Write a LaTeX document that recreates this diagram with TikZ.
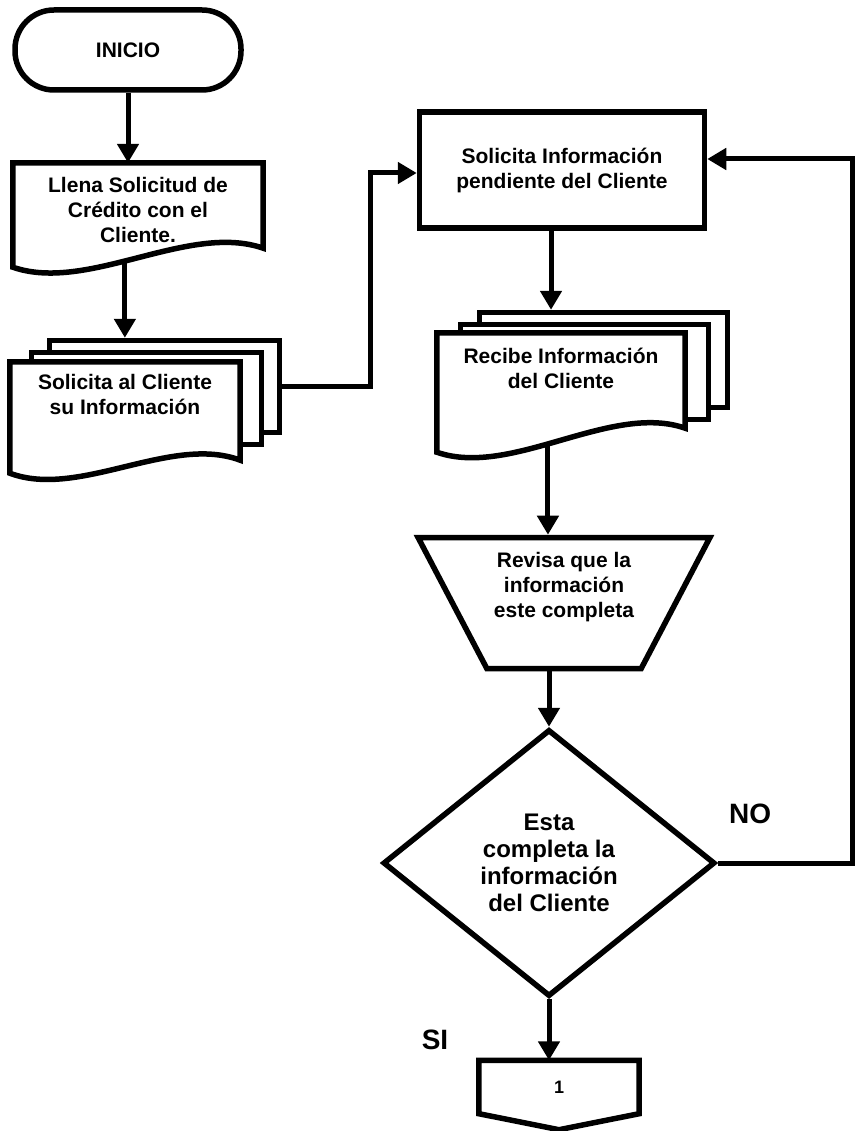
\documentclass[tikz,border=0pt]{standalone}
\usepackage{fontspec}
\setmainfont{Liberation Sans}
\usetikzlibrary{arrows.meta,positioning,calc,backgrounds,shapes.geometric}

% document symbol: wavy lower edge hanging below the text node
\newcommand{\docshape}[3]{%
  \draw[thickline, fill=white] (#1.north west) -- (#1.north east)
    -- ($(#1.south east)+(0,#2)$)
    .. controls ($(#1.south east)!0.3!(#1.south west)+(0,#2-26)$)
    and ($(#1.south east)!0.7!(#1.south west)+(0,#3+26)$)
    .. ($(#1.south west)+(0,#3)$) coordinate[pos=0.55] (#1-out)
    -- cycle;}

\begin{document}
\begin{tikzpicture}[x=1pt, y=-1pt,
    thickline/.style={draw=black, line width=5.5pt},
    txt/.style={align=center, font=\bfseries\fontsize{21}{25}\selectfont},
    box/.style={txt, thickline, minimum width=285pt, minimum height=116pt},
    doc/.style={txt, inner sep=0pt},
    page/.style={thickline, fill=white, anchor=north west, inner sep=0pt},
    arr/.style={-{Triangle[length=19pt, width=21pt]}, line width=5pt},
    lbl/.style={font=\bfseries\fontsize{28}{30}\selectfont}
  ]
  \useasboundingbox (0,0) rectangle (855,1131);

  \node[txt, thickline, rounded corners=39pt, minimum width=226pt, minimum height=80pt] (inicio) at (128,50) {INICIO};
  \node[doc, minimum width=250pt, minimum height=94pt] (llena) at (138,210) {Llena Solicitud de\\Crédito con el\\Cliente.};
  \node[doc, minimum width=230pt, minimum height=64pt] (sol) at (125,394) {Solicita al Cliente\\su Información};
  \node[box] (sip) at (562,170) {Solicita Información\\pendiente del Cliente};
  \node[doc, minimum width=248pt, minimum height=70pt] (rec) at (561,368) {Recibe Información\\del Cliente};

  % manual operation
  \node[thickline, trapezium, shape border rotate=180, trapezium stretches=true,
    trapezium angle=66, minimum width=292pt, minimum height=131pt] (rev) at (564,603) {};
  \node[txt] (rev-txt) at ($(rev)+(0,-16)$) {Revisa que la\\información\\este completa};

  \node[thickline, diamond, txt, font=\bfseries\fontsize{24}{27}\selectfont,
    minimum width=332pt, minimum height=267pt] (dec) at (549,863) {Esta\\completa la\\información\\del Cliente};

  % off-page connector
  \node[txt, font=\bfseries\fontsize{18}{20}\selectfont, inner sep=0pt,
    minimum width=160pt, minimum height=53pt] (con) at (559,1087) {1};
  \draw[thickline] (con.north west) -- (con.north east) -- (con.south east)
    -- ($(con.south)+(0,16)$) -- (con.south west) -- cycle;

  % document outlines and stacked pages
  \begin{scope}[on background layer]
    \docshape{llena}{-9}{10}
    \node[page, minimum width=230pt, minimum height=92pt] (sol-3) at ($(sol.north west)+(37,-24)$) {};
    \node[page, minimum width=230pt, minimum height=92pt] (sol-2) at ($(sol.north west)+(19,-12)$) {};
    \docshape{sol}{34}{47}
    \node[page, minimum width=248pt, minimum height=95pt] (rec-3) at ($(rec.north west)+(40,-23)$) {};
    \node[page, minimum width=248pt, minimum height=95pt] (rec-2) at ($(rec.north west)+(21,-11)$) {};
    \docshape{rec}{25}{49}
  \end{scope}

  \coordinate (sip-out) at ($(sip.south)+(-11,0)$);

  \draw[arr] (inicio.south) -- (inicio.south |- llena.north);
  \draw[arr] (llena-out) -- (llena-out |- sol-3.north);
  \draw[arr] (sol-3.east) -- ++(88,0) |- ($(sip.west)+(0,3)$);
  \draw[arr] (sip-out) -- (sip-out |- rec-3.north);
  \draw[arr] (rec-out) -- (rec-out |- rev.north);
  \draw[arr] (dec.north |- rev.south) -- (dec.north);
  \draw[arr] (dec.south) -- node[lbl, pos=0.67, xshift=-114pt] (si) {SI} (dec.south |- con.north);
  \draw[arr] (dec.east) -- node[lbl, pos=0.24, yshift=49pt] (no) {NO} ++(135,0) |- ($(sip.east)+(0,-11)$);
\end{tikzpicture}
\end{document}
